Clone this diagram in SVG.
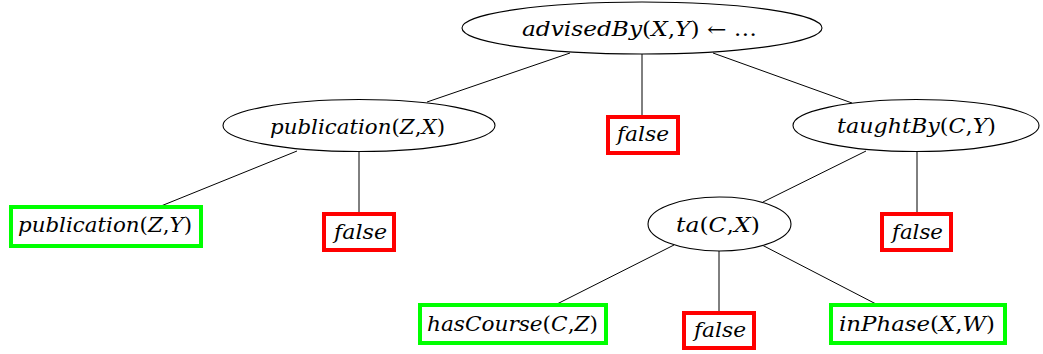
<svg xmlns="http://www.w3.org/2000/svg" width="1043" height="354" viewBox="0 0 1043 354">
  <style>
    .edge { stroke: #000; stroke-width: 1; fill: none; }
    .oval { fill: #fff; stroke: #000; stroke-width: 1.1; }
    .ok { fill: #fff; stroke: #00ff00; stroke-width: 4; }
    .no { fill: #fff; stroke: #ff0000; stroke-width: 4; }
    .lbl { font-family: 'DejaVu Serif', serif; font-size: 20px; font-style: italic; fill: #000; }
    .up { font-style: normal; }
  </style>

  <!-- tree edges -->
  <g id="connectors">
    <line class="edge" x1="570" y1="53" x2="427" y2="102"/>
    <line class="edge" x1="642" y1="54" x2="642" y2="116"/>
    <line class="edge" x1="713" y1="53" x2="852" y2="103"/>
    <line class="edge" x1="297" y1="151" x2="161" y2="206"/>
    <line class="edge" x1="359" y1="152" x2="359" y2="214"/>
    <line class="edge" x1="866" y1="151" x2="763" y2="202"/>
    <line class="edge" x1="917" y1="152" x2="917" y2="214"/>
    <line class="edge" x1="674" y1="245" x2="557" y2="304"/>
    <line class="edge" x1="719" y1="251" x2="719" y2="313"/>
    <line class="edge" x1="762" y1="245" x2="876" y2="304"/>
  </g>

  <!-- root clause -->
  <g id="root">
    <ellipse class="oval" cx="642" cy="28" rx="180" ry="26"/>
    <text class="lbl" x="522" y="36" textLength="235" lengthAdjust="spacingAndGlyphs">advisedBy<tspan class="up">(</tspan>X<tspan class="up">,</tspan>Y<tspan class="up">) ← …</tspan></text>
  </g>

  <!-- first level -->
  <g id="publicationZX">
    <ellipse class="oval" cx="359" cy="125.5" rx="136" ry="26"/>
    <text class="lbl" x="270" y="134" textLength="175" lengthAdjust="spacingAndGlyphs">publication<tspan class="up">(</tspan>Z<tspan class="up">,</tspan>X<tspan class="up">)</tspan></text>
  </g>
  <g id="false1">
    <rect class="no" x="608" y="117" width="70" height="36"/>
    <text class="lbl" x="617" y="141" textLength="52" lengthAdjust="spacingAndGlyphs">false</text>
  </g>
  <g id="taughtBy">
    <ellipse class="oval" cx="916" cy="125.5" rx="123" ry="26"/>
    <text class="lbl" x="837" y="133" textLength="159" lengthAdjust="spacingAndGlyphs">taughtBy<tspan class="up">(</tspan>C<tspan class="up">,</tspan>Y<tspan class="up">)</tspan></text>
  </g>

  <!-- second level -->
  <g id="publicationZY">
    <rect class="ok" x="11" y="207" width="190" height="39"/>
    <text class="lbl" x="18" y="232" textLength="174" lengthAdjust="spacingAndGlyphs">publication<tspan class="up">(</tspan>Z<tspan class="up">,</tspan>Y<tspan class="up">)</tspan></text>
  </g>
  <g id="false2">
    <rect class="no" x="324" y="214" width="70" height="36"/>
    <text class="lbl" x="334" y="239" textLength="53" lengthAdjust="spacingAndGlyphs">false</text>
  </g>
  <g id="ta">
    <ellipse class="oval" cx="719.5" cy="224" rx="71.5" ry="27"/>
    <text class="lbl" x="676" y="232" textLength="84" lengthAdjust="spacingAndGlyphs">ta<tspan class="up">(</tspan>C<tspan class="up">,</tspan>X<tspan class="up">)</tspan></text>
  </g>
  <g id="false3">
    <rect class="no" x="882" y="214" width="69" height="36"/>
    <text class="lbl" x="892" y="239" textLength="51" lengthAdjust="spacingAndGlyphs">false</text>
  </g>

  <!-- third level -->
  <g id="hasCourse">
    <rect class="ok" x="420" y="305" width="186" height="38"/>
    <text class="lbl" x="427" y="331" textLength="171" lengthAdjust="spacingAndGlyphs">hasCourse<tspan class="up">(</tspan>C<tspan class="up">,</tspan>Z<tspan class="up">)</tspan></text>
  </g>
  <g id="false4">
    <rect class="no" x="684" y="313" width="70" height="35"/>
    <text class="lbl" x="694" y="337" textLength="52" lengthAdjust="spacingAndGlyphs">false</text>
  </g>
  <g id="inPhase">
    <rect class="ok" x="831" y="305" width="174" height="38"/>
    <text class="lbl" x="839" y="331" textLength="156" lengthAdjust="spacingAndGlyphs">inPhase<tspan class="up">(</tspan>X<tspan class="up">,</tspan>W<tspan class="up">)</tspan></text>
  </g>
</svg>
